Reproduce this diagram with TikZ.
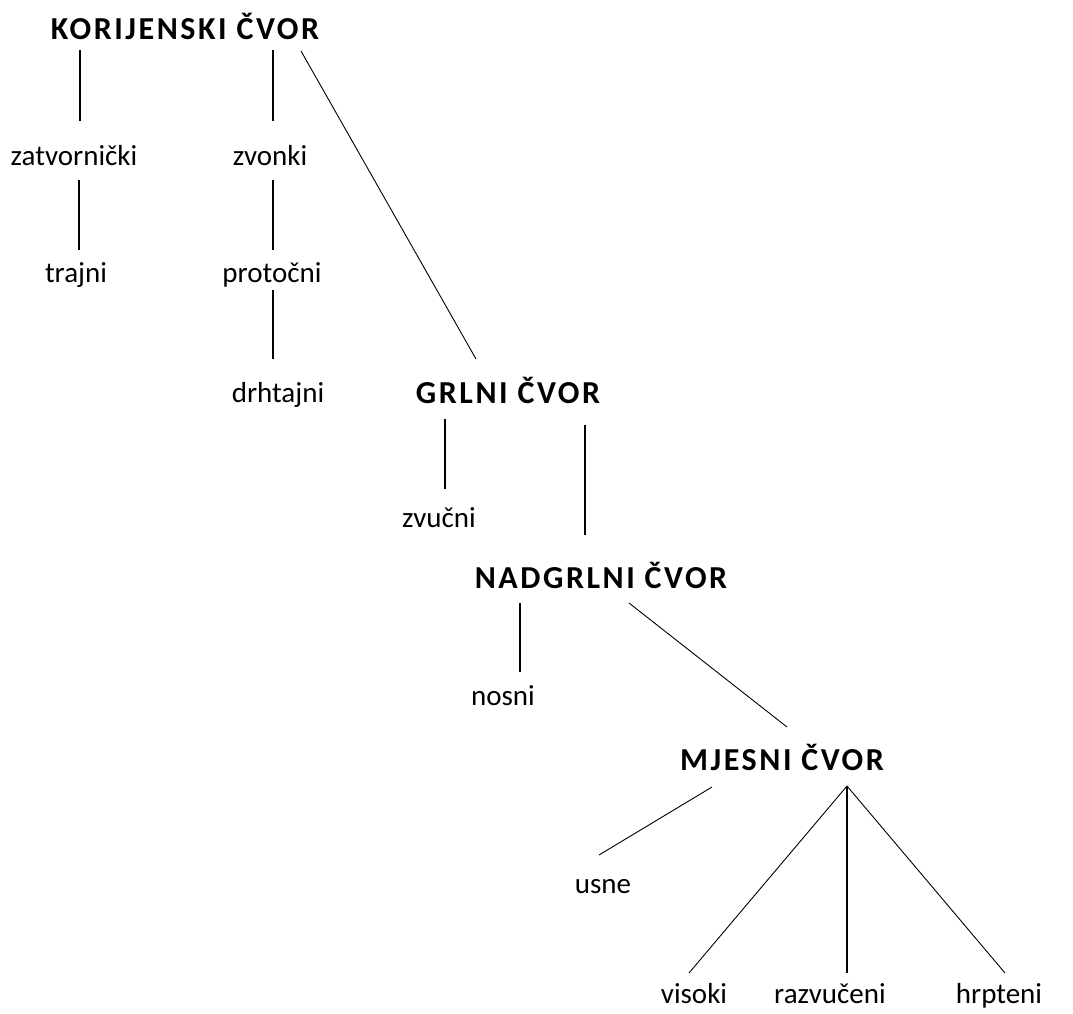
\documentclass[tikz,border=0pt]{standalone}
\usepackage{fontspec}
\setmainfont{Carlito}
\newfontfamily\hdrfont[LetterSpace=8]{Carlito}
\begin{document}
\begin{tikzpicture}[x=1pt,y=-1pt,
  lbl/.style={anchor=base,inner sep=0pt,font=\fontsize{29}{34}\selectfont},
  hdr/.style={anchor=base,inner sep=0pt,font=\hdrfont\bfseries\fontsize{32}{36}\selectfont},
  vline/.style={line width=1.5pt,black},
  dline/.style={line width=0.9pt,black}]
\useasboundingbox[fill=white] (0,0) rectangle (1073,1014);
% nodes
\node[hdr] (kor) at (185,40) {KORIJENSKI ČVOR};
\node[lbl] (zat) at (74,165) {zatvornički};
\node[lbl] (zvo) at (270,165) {zvonki};
\node[lbl] (tra) at (76,282) {trajni};
\node[lbl] (pro) at (272,282) {protočni};
\node[lbl] (drh) at (278,402) {drhtajni};
\node[hdr] (grl) at (508,403) {GRLNI ČVOR};
\node[lbl] (zvu) at (439,527) {zvučni};
\node[hdr] (nad) at (601,588) {NADGRLNI ČVOR};
\node[lbl] (nos) at (503,705) {nosni};
\node[hdr] (mje) at (782,770) {MJESNI ČVOR};
\node[lbl] (usn) at (603,893) {usne};
\node[lbl] (vis) at (694,1003) {visoki};
\node[lbl] (raz) at (830,1003) {razvučeni};
\node[lbl] (hrp) at (999,1003) {hrpteni};
% connectors
\draw[vline] ([shift={(-105,10)}]kor.base) -- ([shift={(6,-44)}]zat.base);
\draw[vline] ([shift={(88,10)}]kor.base) -- ([shift={(3,-44)}]zvo.base);
\draw[dline] ([shift={(116,11)}]kor.base) -- ([shift={(-32,-44)}]grl.base);
\draw[vline] ([shift={(5,15)}]zat.base) -- ([shift={(3,-32)}]tra.base);
\draw[vline] ([shift={(3,15)}]zvo.base) -- ([shift={(1,-32)}]pro.base);
\draw[vline] ([shift={(1,8)}]pro.base) -- ([shift={(-5,-43)}]drh.base);
\draw[vline] ([shift={(-63,16)}]grl.base) -- ([shift={(6,-38)}]zvu.base);
\draw[vline] ([shift={(77,22)}]grl.base) -- ([shift={(-16,-53)}]nad.base);
\draw[vline] ([shift={(-81,15)}]nad.base) -- ([shift={(17,-33)}]nos.base);
\draw[dline] ([shift={(28,15)}]nad.base) -- ([shift={(5,-43)}]mje.base);
\draw[dline] ([shift={(-70,17)}]mje.base) -- ([shift={(-4,-38)}]usn.base);
\draw[dline] ([shift={(65,16)}]mje.base) -- ([shift={(-5,-30)}]vis.base);
\draw[vline] ([shift={(65,16)}]mje.base) -- ([shift={(17,-30)}]raz.base);
\draw[dline] ([shift={(65,16)}]mje.base) -- ([shift={(6,-30)}]hrp.base);
\end{tikzpicture}
\end{document}
